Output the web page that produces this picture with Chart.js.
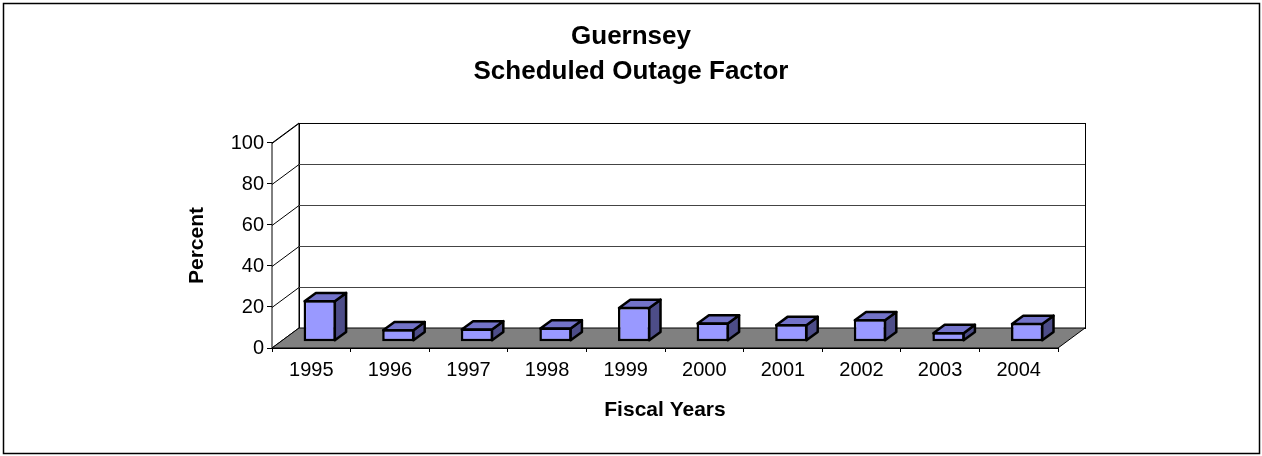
<!DOCTYPE html>
<html>
<head>
<meta charset="utf-8">
<script src="https://cdn.jsdelivr.net/npm/chart.js@4.4.1/dist/chart.umd.min.js"></script>
<style>
  html, body { margin: 0; padding: 0; background: #fff; }
  #wrap { width: 1262px; height: 456px; }
</style>
</head>
<body>
<div id="wrap"><canvas id="outage" width="1262" height="456"></canvas></div>
<script>
const years = ['1995', '1996', '1997', '1998', '1999', '2000', '2001', '2002', '2003', '2004'];
const outageFactor = [20.3, 6.1, 6.5, 7, 17, 9.4, 8.6, 11, 4.7, 9.2];
const yTicks = [0, 20, 40, 60, 80, 100];

// depth of the 3d box, and where the bars sit inside it
const DEPTH_X = 27, DEPTH_Y = -20;
const BAR_OFF_X = 8.4, BAR_OFF_Y = -6.2;
const BAR_DX = 11.3, BAR_DY = -8.3;

Chart.defaults.font.family = '"Liberation Sans", Arial, sans-serif';
Chart.defaults.color = '#000';

const frame = {
    id: 'frame',
    beforeDraw(chart) {
        const ctx = chart.ctx;
        ctx.save();
        ctx.fillStyle = '#fff';
        ctx.fillRect(0, 0, chart.width, chart.height);
        ctx.strokeStyle = '#000';
        ctx.lineWidth = 1.5;
        ctx.strokeRect(3.5, 3.5, chart.width - 6, chart.height - 6);
        ctx.restore();
    }
};

const box3d = {
    id: 'box3d',
    beforeDatasetsDraw(chart) {
        const ctx = chart.ctx;
        const area = chart.chartArea;
        const y = chart.scales.y;
        const l = area.left, r = area.right;
        const top = y.getPixelForValue(100), bot = y.getPixelForValue(0);

        ctx.save();
        ctx.lineWidth = 1;
        ctx.strokeStyle = '#000';

        // left wall
        ctx.fillStyle = '#fff';
        ctx.beginPath();
        ctx.moveTo(l, top);
        ctx.lineTo(l + DEPTH_X, top + DEPTH_Y);
        ctx.lineTo(l + DEPTH_X, bot + DEPTH_Y);
        ctx.lineTo(l, bot);
        ctx.closePath();
        ctx.fill();
        ctx.stroke();

        // back wall
        ctx.fillRect(l + DEPTH_X, top + DEPTH_Y, r - l, bot - top);
        ctx.strokeRect(l + DEPTH_X + 0.5, top + DEPTH_Y + 0.5, r - l, bot - top);

        yTicks.forEach(v => {
            const p = Math.round(y.getPixelForValue(v)) + 0.5;
            ctx.strokeStyle = '#000';
            ctx.beginPath();
            ctx.moveTo(l, p);
            ctx.lineTo(l + DEPTH_X, p + DEPTH_Y);
            ctx.stroke();
            if (v > 0 && v < 100) {
                ctx.strokeStyle = '#444';
                ctx.beginPath();
                ctx.moveTo(l + DEPTH_X, p + DEPTH_Y);
                ctx.lineTo(r + DEPTH_X, p + DEPTH_Y);
                ctx.stroke();
            }
        });

        // floor
        ctx.strokeStyle = '#000';
        ctx.fillStyle = '#808080';
        ctx.beginPath();
        ctx.moveTo(l, bot);
        ctx.lineTo(r, bot);
        ctx.lineTo(r + DEPTH_X, bot + DEPTH_Y);
        ctx.lineTo(l + DEPTH_X, bot + DEPTH_Y);
        ctx.closePath();
        ctx.fill();
        ctx.stroke();

        // sides and tops of the bars
        ctx.translate(BAR_OFF_X, BAR_OFF_Y);
        ctx.lineWidth = 2.5;
        ctx.lineJoin = 'round';
        chart.getDatasetMeta(0).data.forEach(bar => {
            const x0 = bar.x - bar.width / 2, x1 = bar.x + bar.width / 2;
            ctx.fillStyle = '#4d4d88';
            ctx.beginPath();
            ctx.moveTo(x1 - 1, bar.y + 1);
            ctx.lineTo(x1 - 1 + BAR_DX, bar.y + 1 + BAR_DY);
            ctx.lineTo(x1 - 1 + BAR_DX, bar.base - 1 + BAR_DY);
            ctx.lineTo(x1 - 1, bar.base - 1);
            ctx.closePath();
            ctx.fill();
            ctx.stroke();
            ctx.fillStyle = '#7373c9';
            ctx.beginPath();
            ctx.moveTo(x0 + 1, bar.y + 1);
            ctx.lineTo(x0 + 1 + BAR_DX, bar.y + 1 + BAR_DY);
            ctx.lineTo(x1 - 1 + BAR_DX, bar.y + 1 + BAR_DY);
            ctx.lineTo(x1 - 1, bar.y + 1);
            ctx.closePath();
            ctx.fill();
            ctx.stroke();
        });
        ctx.restore();

        // front faces are drawn by chart.js, shifted into the box
        ctx.save();
        ctx.translate(BAR_OFF_X, BAR_OFF_Y);
    },
    afterDatasetsDraw(chart) {
        chart.ctx.restore();
    }
};

new Chart(document.getElementById('outage'), {
    type: 'bar',
    data: {
        labels: years,
        datasets: [{
            label: 'Scheduled Outage Factor',
            data: outageFactor,
            backgroundColor: '#9999ff',
            borderColor: '#000',
            borderWidth: 2.5,
            borderSkipped: false,
            barPercentage: 0.41,
            categoryPercentage: 1,
            clip: false
        }]
    },
    plugins: [frame, box3d],
    options: {
        responsive: false,
        animation: false,
        layout: { padding: 0 },
        plugins: {
            legend: { display: false },
            tooltip: { enabled: false },
            title: {
                display: true,
                text: ['Guernsey', 'Scheduled Outage Factor'],
                font: { size: 26, weight: 'bold', lineHeight: 1.346 },
                color: '#000',
                padding: { top: 19, bottom: 54 }
            }
        },
        scales: {
            x: {
                grid: { drawOnChartArea: false, tickLength: 4, color: '#000', offset: true },
                border: { display: true, color: '#000' },
                ticks: { font: { size: 20 }, padding: 6, color: '#000' },
                title: {
                    display: true,
                    text: 'Fiscal Years',
                    font: { size: 21, weight: 'bold' },
                    padding: { top: 0, bottom: 33 }
                },
                afterFit: function (scale) {
                    scale.height = 108;
                }
            },
            y: {
                min: 0,
                max: 100,
                grid: { drawOnChartArea: false, tickLength: 5, color: '#000' },
                border: { display: true, color: '#000' },
                ticks: { stepSize: 20, font: { size: 20 }, padding: 3, color: '#000' },
                title: {
                    display: true,
                    text: 'Percent',
                    font: { size: 21, weight: 'bold' },
                    padding: { top: 185, bottom: 0 }
                },
                afterFit: function (scale) {
                    scale.width = 272;
                }
            },
            // empty space on the right, where the box depth runs out
            side: {
                position: 'right',
                display: true,
                grid: { display: false },
                border: { display: false },
                ticks: { display: false },
                afterFit: function (scale) {
                    scale.width = 204;
                }
            }
        }
    }
});
</script>
</body>
</html>
